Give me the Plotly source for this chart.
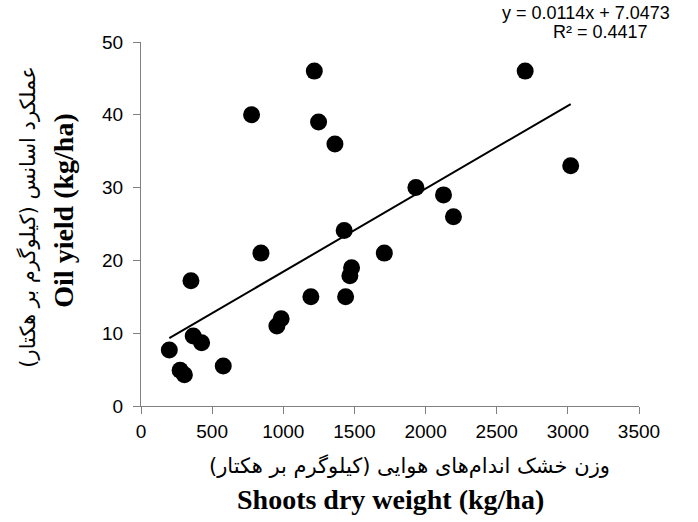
import plotly.graph_objects as go

# Data
shoots_dry_weight = [199, 275, 305, 351, 367, 426, 578, 777, 843, 955, 985,
                     1194, 1218, 1248, 1363, 1428, 1438, 1468, 1480, 1710,
                     1932, 2126, 2196, 2700, 3020]
oil_yield = [7.7, 4.9, 4.3, 17.2, 9.6, 8.7, 5.5, 40.0, 21.0, 11.0, 12.0,
             15.0, 46.0, 39.0, 36.0, 24.1, 15.0, 17.9, 19.0, 21.0,
             30.0, 29.0, 26.0, 46.0, 33.0]

slope = 0.0114
intercept = 7.0473
r_squared = 0.4417

x_ticks = [0, 500, 1000, 1500, 2000, 2500, 3000, 3500]
y_ticks = [0, 10, 20, 30, 40, 50]

xmin, xmax = min(shoots_dry_weight), max(shoots_dry_weight)
trend_x = [xmin, xmax]
trend_y = [slope * v + intercept for v in trend_x]

fig = go.Figure()
fig.add_trace(go.Scatter(x=trend_x, y=trend_y, mode="lines",
                         line=dict(color="black", width=2), showlegend=False,
                         hoverinfo="skip"))
fig.add_trace(go.Scatter(x=shoots_dry_weight, y=oil_yield, mode="markers",
                         marker=dict(color="black", size=17, line=dict(width=0)),
                         showlegend=False))

axis_common = dict(showgrid=False, zeroline=False, showline=True,
                   linecolor="#808080", linewidth=1, ticks="outside",
                   ticklen=7, tickcolor="#808080",
                   tickfont=dict(family="Liberation Sans, Arial", size=19, color="black"))

fig.update_xaxes(range=[0, 3500], tickvals=x_ticks, ticklabelstandoff=1, **axis_common)
fig.update_yaxes(range=[0, 50], tickvals=y_ticks, ticklabelstandoff=6, **axis_common)

eq_font = dict(family="Liberation Sans, Arial", size=18, color="black")
fa_font_x = dict(family="DejaVu Sans", size=21, color="black")
fa_font_y = dict(family="DejaVu Sans", size=21, color="black")
en_font = dict(family="Liberation Serif, Times New Roman", size=28, color="black")

fig.update_layout(
    width=698, height=522,
    margin=dict(l=141, r=59, t=42, b=116),
    plot_bgcolor="white", paper_bgcolor="white",
    annotations=[
        dict(text=f"y = {slope}x + {intercept}", xref="paper", yref="paper",
             x=1.066, y=1.080, xanchor="right", yanchor="middle", showarrow=False,
             font=eq_font),
        dict(text=f"R² = {r_squared}", xref="paper", yref="paper",
             x=1.022, y=1.027, xanchor="right", yanchor="middle", showarrow=False,
             font=eq_font),
        dict(text="عملکرد اسانس (کیلوگرم بر هکتار)", xref="paper", yref="paper",
             x=-0.227, y=0.52, xanchor="center", yanchor="middle", textangle=-90,
             showarrow=False, font=fa_font_y),
        dict(text="<b>Oil yield (kg/ha)</b>", xref="paper", yref="paper",
             x=-0.155, y=0.536, xanchor="center", yanchor="middle", textangle=-90,
             showarrow=False, font=en_font),
        dict(text="وزن خشک اندام‌های هوایی (کیلوگرم بر هکتار)", xref="paper", yref="paper",
             x=0.54, y=-0.165, xanchor="center", yanchor="middle",
             showarrow=False, font=fa_font_x),
        dict(text="<b>Shoots dry weight (kg/ha)</b>", xref="paper", yref="paper",
             x=0.5, y=-0.258, xanchor="center", yanchor="middle",
             showarrow=False, font=en_font),
    ],
)

fig.write_html("out.html", config={"displayModeBar": False},
               post_script="document.body.style.margin='0';")
